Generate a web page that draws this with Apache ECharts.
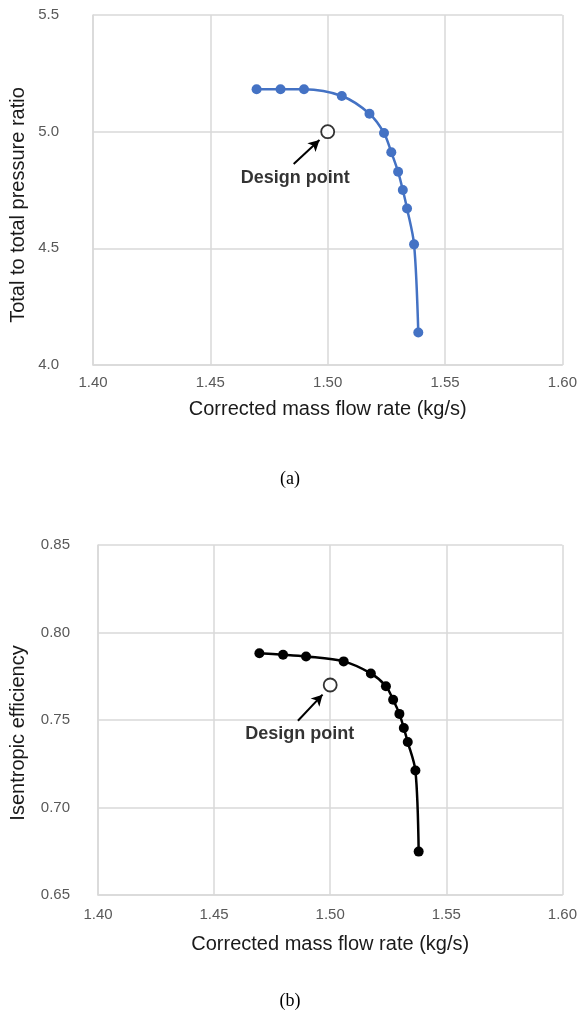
<!DOCTYPE html>
<html>
<head>
<meta charset="utf-8">
<script src="https://cdn.jsdelivr.net/npm/echarts@6/dist/echarts.min.js"></script>
<style>
html,body{margin:0;padding:0;background:#fff;}
#chart{width:580px;height:1023px;}
</style>
</head>
<body>
<div id="chart"></div>
<script>
// ---- data ----
const xTicks = [1.40, 1.45, 1.50, 1.55, 1.60];
const prTicks = [4.0, 4.5, 5.0, 5.5];
const effTicks = [0.65, 0.70, 0.75, 0.80, 0.85];

const massFlowA = [1.4697, 1.4799, 1.4899, 1.5060, 1.5178, 1.5240, 1.5271, 1.5300, 1.5320, 1.5338, 1.5368, 1.5386];
const pressureRatio = [5.182, 5.182, 5.182, 5.153, 5.077, 4.994, 4.912, 4.828, 4.750, 4.671, 4.517, 4.139];

const massFlowB = [1.4695, 1.4797, 1.4896, 1.5058, 1.5175, 1.5240, 1.5271, 1.5298, 1.5317, 1.5334, 1.5367, 1.5381];
const efficiency = [0.7881, 0.7873, 0.7863, 0.7835, 0.7766, 0.7693, 0.7616, 0.7535, 0.7454, 0.7374, 0.7211, 0.6748];

const designA = [1.50, 5.0];
const designB = [1.50, 0.77];
const arrowA = [[1.4855, 4.861], [1.4965, 4.964]];
const arrowB = [[1.4861, 0.7496], [1.4967, 0.7645]];
const labelPosA = [1.4862, 4.803];
const labelPosB = [1.4869, 0.7419];
const annotationText = 'Design point';

const xTitle = 'Corrected mass flow rate (kg/s)';
const yTitleA = 'Total to total pressure ratio';
const yTitleB = 'Isentropic efficiency';
const captions = ['(a)', '(b)'];

// ---- chart ----
const chart = echarts.init(document.getElementById('chart'), null, {renderer: 'canvas'});
const gridColor = '#d9d9d9';
const tickColor = '#595959';
const titleColor = '#1a1a1a';
const font = 'Arial, "Liberation Sans", sans-serif';

function xAxis(gridIndex, margin, nameGap) {
  return {
    type: 'value', gridIndex: gridIndex,
    min: xTicks[0], max: xTicks[xTicks.length - 1], interval: 0.05,
    axisLine: {show: true, lineStyle: {color: gridColor, width: 1.5}},
    axisTick: {show: false},
    splitLine: {show: true, lineStyle: {color: gridColor, width: 1.5}},
    axisLabel: {color: tickColor, fontSize: 15, fontFamily: font, margin: margin,
      formatter: v => v.toFixed(2)},
    name: xTitle, nameLocation: 'middle', nameGap: nameGap,
    nameTextStyle: {color: titleColor, fontSize: 20, fontFamily: font}
  };
}
function yAxis(gridIndex, ticks, interval, decimals, margin) {
  return {
    type: 'value', gridIndex: gridIndex,
    min: ticks[0], max: ticks[ticks.length - 1], interval: interval,
    axisLine: {show: true, lineStyle: {color: gridColor, width: 1.5}},
    axisTick: {show: false},
    splitLine: {show: true, lineStyle: {color: gridColor, width: 1.5}},
    axisLabel: {color: tickColor, fontSize: 15, fontFamily: font, margin: margin,
      formatter: v => v.toFixed(decimals)}
  };
}

function curveSeries(idx, xs, ys, color) {
  return {
    type: 'line', xAxisIndex: idx, yAxisIndex: idx,
    data: xs.map((x, i) => [x, ys[i]]),
    smooth: 0.3, symbol: 'circle', symbolSize: 10, showSymbol: true,
    lineStyle: {color: color, width: 2.5},
    itemStyle: {color: color},
    z: 3
  };
}
function designSeries(idx, pt, arrow, labelPos) {
  return [{
    type: 'scatter', xAxisIndex: idx, yAxisIndex: idx,
    data: [pt], symbol: 'circle', symbolSize: 13,
    itemStyle: {color: '#fff', borderColor: '#000', borderWidth: 1.8},
    z: 4,
    markLine: {
      silent: true, symbol: ['none', 'arrow'], symbolSize: [9, 11],
      lineStyle: {color: '#000', width: 2, type: 'solid'},
      label: {show: false},
      data: [[{coord: arrow[0]}, {coord: arrow[1]}]]
    }
  }, {
    type: 'scatter', xAxisIndex: idx, yAxisIndex: idx,
    data: [labelPos], symbolSize: 0,
    label: {show: true, position: 'inside', formatter: annotationText,
      color: '#000', fontWeight: 'bold', fontSize: 18, fontFamily: font},
    silent: true, z: 5
  }];
}

const option = {
  animation: false,
  backgroundColor: '#fff',
  grid: [
    {left: 93, top: 15, width: 473, height: 350},
    {left: 98, top: 545, width: 467, height: 350}
  ],
  xAxis: [xAxis(0, 10, 34), xAxis(1, 12, 39)],
  yAxis: [
    yAxis(0, prTicks, 0.5, 1, 34),
    yAxis(1, effTicks, 0.05, 2, 28)
  ],
  series: [
    curveSeries(0, massFlowA, pressureRatio, '#4472C4'),
    ...designSeries(0, designA, arrowA, labelPosA),
    curveSeries(1, massFlowB, efficiency, '#000000'),
    ...designSeries(1, designB, arrowB, labelPosB)
  ],
  graphic: [
    {type: 'text', x: 18, y: 205, rotation: Math.PI / 2,
      style: {text: yTitleA, fill: titleColor, font: '20px Arial, "Liberation Sans", sans-serif', align: 'center', verticalAlign: 'middle'}},
    {type: 'text', x: 18, y: 733, rotation: Math.PI / 2,
      style: {text: yTitleB, fill: titleColor, font: '20px Arial, "Liberation Sans", sans-serif', align: 'center', verticalAlign: 'middle'}},
    {type: 'text', x: 290, y: 479,
      style: {text: captions[0], fill: '#000', font: '18px "Liberation Serif", "Times New Roman", serif', align: 'center', verticalAlign: 'middle'}},
    {type: 'text', x: 290, y: 1001,
      style: {text: captions[1], fill: '#000', font: '18px "Liberation Serif", "Times New Roman", serif', align: 'center', verticalAlign: 'middle'}}
  ]
};
chart.setOption(option);
</script>
</body>
</html>
